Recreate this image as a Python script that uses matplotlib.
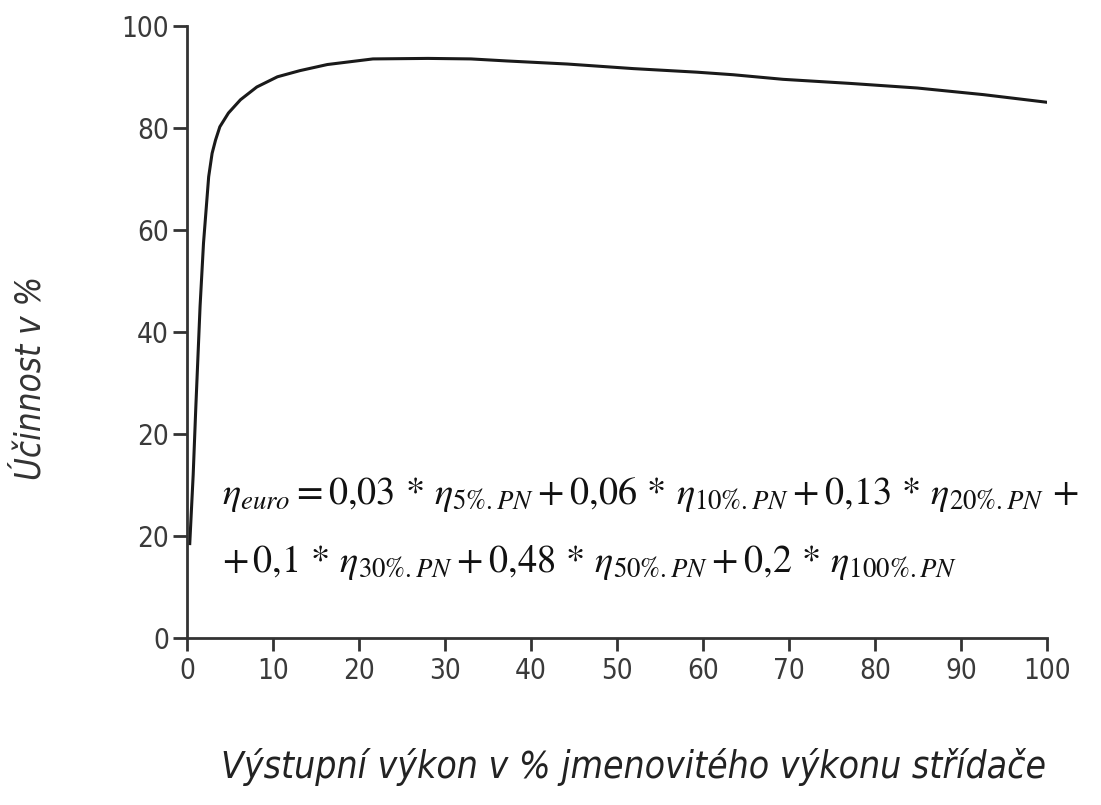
import matplotlib.pyplot as plt

# (osa y je lineární od "0" = 0 % u druhé značky)
vykon = [0.3, 0.7, 1.0, 1.5, 1.9, 2.5, 2.9, 3.3, 3.8, 4.8, 6.2, 8.1, 10.5, 13.1, 16.3,
         21.6, 28.0, 33.0, 37.2, 44.2, 51.9, 59.3, 63.5, 69.3, 77.1, 84.9, 92.6, 100.0]
ucinnost = [-1.5, 12.0, 25.0, 45.0, 57.4, 70.4, 75.0, 77.6, 80.2, 82.9, 85.5, 88.0, 90.0, 91.2, 92.4,
            93.5, 93.6, 93.5, 93.1, 92.5, 91.6, 90.9, 90.4, 89.5, 88.7, 87.8, 86.5, 85.0]

x_ticks = [0, 10, 20, 30, 40, 50, 60, 70, 80, 90, 100]
y_ticks = [-20, 0, 20, 40, 60, 80, 100]
y_tick_labels = ["0", "20", "20", "40", "60", "80", "100"]

sans = "DejaVu Sans"
plt.rcParams["mathtext.fontset"] = "stix"

fig = plt.figure(figsize=(11.01, 8.05), dpi=100)
ax = fig.add_axes([0.170, 0.2075, 0.781, 0.7605])

ax.plot(vykon, ucinnost, color="#1a1a1a", linewidth=2.2)

ax.set_xlim(0, 100)
ax.set_ylim(-20, 100)
ax.set_xticks(x_ticks)
ax.set_yticks(y_ticks)
ax.set_yticklabels(y_tick_labels)

for s in ["top", "right"]:
    ax.spines[s].set_visible(False)
for s in ["left", "bottom"]:
    ax.spines[s].set_linewidth(2.0)
    ax.spines[s].set_color("#333333")

ax.tick_params(axis="y", length=10, width=2, color="#333333", pad=3)
ax.tick_params(axis="x", length=9, width=2, color="#333333", pad=5)
for lab in ax.get_xticklabels() + ax.get_yticklabels():
    lab.set_family(sans)
    lab.set_stretch("condensed")
    lab.set_fontsize(20)
    lab.set_color("#3a3a3a")

ax.set_ylabel("Účinnost v %", family=sans, stretch="condensed", style="italic", fontsize=25,
              color="#333333")
ax.yaxis.set_label_coords(-0.163, 0.425)
ax.set_xlabel("Výstupní výkon v % jmenovitého výkonu střídače", family=sans, stretch="condensed",
              style="italic", fontsize=26.7, color="#222222")
ax.xaxis.set_label_coords(0.519, -0.18)

radek1 = (r"$\eta_{\mathit{euro}} = 0{,}03\,*\,\eta_{\mathit{5\%.PN}} + 0{,}06\,*\,\eta_{\mathit{10\%.PN}}"
          r" + 0{,}13\,*\,\eta_{\mathit{20\%.PN}}\, +$")
radek2 = (r"$+\, 0{,}1\,*\,\eta_{\mathit{30\%.PN}} + 0{,}48\,*\,\eta_{\mathit{50\%.PN}}"
          r" + 0{,}2\,*\,\eta_{\mathit{100\%.PN}}$")
ax.text(4.0, 6.2, radek1, fontsize=27.5, color="#111111", va="baseline")
ax.text(4.0, -7.0, radek2, fontsize=27.5, color="#111111", va="baseline")

fig.savefig("out.png", dpi=100)
